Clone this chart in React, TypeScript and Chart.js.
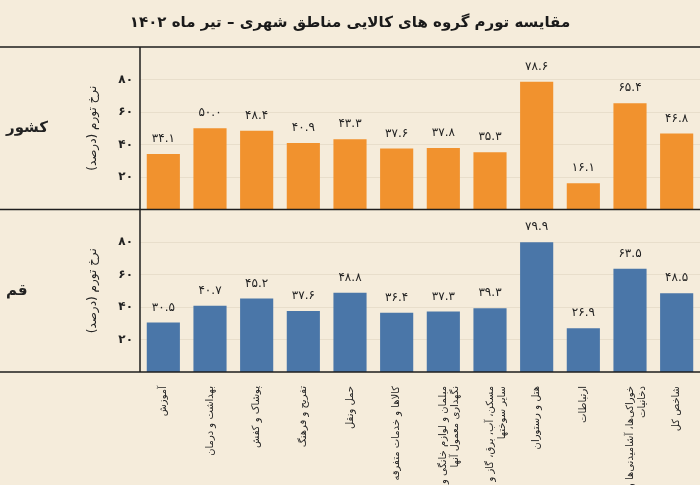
import React, { useEffect, useRef } from 'react';
import { Chart, registerables } from 'chart.js';

Chart.register(...registerables);

const titleText = 'مقایسه تورم گروه های کالایی مناطق شهری – تیر ماه ۱۴۰۲';
const axisTitle = 'نرخ تورم (درصد)';
const regionNames = ['کشور', 'قم'];

const categories: (string | string[])[] = [
  'آموزش',
  'بهداشت و درمان',
  'پوشاک و کفش',
  'تفریح و فرهنگ',
  'حمل ونقل',
  'کالاها و خدمات متفرقه',
  ['مبلمان و لوازم خانگی و', 'نگهداری معمول آنها'],
  ['مسکن، آب، برق، گاز و', 'سایر سوختها'],
  'هتل و رستوران',
  'ارتباطات',
  ['خوراکی‌ها، آشامیدنی‌ها و', 'دخانیات'],
  'شاخص کل',
];

const countryValues = [34.1, 50.0, 48.4, 40.9, 43.3, 37.6, 37.8, 35.3, 78.6, 16.1, 65.4, 46.8];
const qomValues = [30.5, 40.7, 45.2, 37.6, 48.8, 36.4, 37.3, 39.3, 79.9, 26.9, 63.5, 48.5];
const yTicks = [20, 40, 60, 80];

const FONT = '"DejaVu Sans", sans-serif';
const BG = '#f5ecdb';
const ORANGE = '#f1922e';
const BLUE = '#4a76a8';
const INK = '#222222';

const faDigits = '۰۱۲۳۴۵۶۷۸۹';
const toFa = (s: string) => s.replace(/[0-9]/g, (d) => faDigits[Number(d)]);

const decorPlugin = {
  id: 'decor',
  afterDatasetsDraw(chart: any) {
    const { ctx } = chart;
    ctx.save();
    ctx.font = `12px ${FONT}`;
    ctx.fillStyle = INK;
    ctx.textAlign = 'center';
    ctx.textBaseline = 'bottom';
    chart.data.datasets.forEach((ds: any, i: number) => {
      const meta = chart.getDatasetMeta(i);
      meta.data.forEach((el: any, j: number) => {
        const v = ds.data[j];
        ctx.fillText(toFa(v.toFixed(1)), el.x, el.y - 9);
      });
    });
    ctx.restore();
  },
  afterDraw(chart: any) {
    const { ctx, chartArea, scales } = chart;
    const W = chart.width;
    ctx.save();
    ctx.strokeStyle = '#1e1e1e';
    ctx.lineWidth = 1.5;
    const ys = [chartArea.top, scales.yTop.bottom, chartArea.bottom];
    ctx.beginPath();
    ys.forEach((y: number) => {
      ctx.moveTo(0, y);
      ctx.lineTo(W, y);
    });
    ctx.moveTo(chartArea.left, chartArea.top);
    ctx.lineTo(chartArea.left, chartArea.bottom);
    ctx.stroke();

    ctx.fillStyle = INK;
    ctx.font = `bold 15px ${FONT}`;
    ctx.textAlign = 'left';
    ctx.textBaseline = 'middle';
    const axes = [scales.yTop, scales.yBottom];
    axes.forEach((ax: any, i: number) => {
      ctx.fillText(regionNames[i], 6, (ax.top + ax.bottom) / 2);
    });
    ctx.restore();
  },
};

function yScale(stackWeight: number) {
  return {
    type: 'linear',
    position: 'left',
    stack: 'panels',
    stackWeight,
    min: 0,
    max: 100,
    afterBuildTicks: (s: any) => {
      s.ticks = yTicks.map((v) => ({ value: v }));
    },
    afterFit: (s: any) => {
      s.width = 140;
    },
    grid: { color: 'rgba(120, 100, 70, 0.10)', drawTicks: false },
    border: { display: false },
    ticks: {
      padding: 7,
      color: INK,
      font: { family: FONT, size: 12, weight: 'bold' },
      callback: (v: any) => toFa(String(v)),
    },
    title: {
      display: true,
      text: axisTitle,
      color: INK,
      font: { family: FONT, size: 12 },
      padding: { top: 86, bottom: 0 },
    },
  };
}

export default function App() {
  const ref = useRef<HTMLCanvasElement>(null);
  useEffect(() => {
    if (!ref.current) return;
    const chart = new Chart(ref.current, {
      type: 'bar',
      data: {
        labels: categories as any,
        datasets: [
          {
            label: regionNames[0],
            data: countryValues,
            backgroundColor: ORANGE,
            yAxisID: 'yTop',
            grouped: false,
            barPercentage: 0.71,
            categoryPercentage: 1,
          } as any,
          {
            label: regionNames[1],
            data: qomValues,
            backgroundColor: BLUE,
            yAxisID: 'yBottom',
            grouped: false,
            barPercentage: 0.71,
            categoryPercentage: 1,
          } as any,
        ],
      },
      options: {
        animation: false,
        responsive: false,
        layout: { padding: 0 },
        plugins: {
          legend: { display: false },
          tooltip: { enabled: false },
          title: {
            display: true,
            text: titleText,
            color: '#1a1a1a',
            font: { family: FONT, size: 15, weight: 'bold' },
            padding: { top: 14, bottom: 15 },
          },
        },
        scales: {
          x: {
            position: 'bottom',
            grid: { display: false },
            border: { display: false },
            afterFit: (s: any) => {
              s.height = 113;
            },
            ticks: {
              autoSkip: false,
              minRotation: 90,
              maxRotation: 90,
              padding: 6,
              color: INK,
              font: { family: FONT, size: 10 },
            },
          },
          yBottom: yScale(1),
          yTop: yScale(1),
        } as any,
      },
      plugins: [decorPlugin],
    });
    return () => chart.destroy();
  }, []);

  return (
    <div style={{ position: 'fixed', left: 0, top: 0, width: 700, height: 485, background: BG }}>
      <canvas ref={ref} width={700} height={485} dir="rtl" style={{ display: 'block' }} />
    </div>
  );
}
